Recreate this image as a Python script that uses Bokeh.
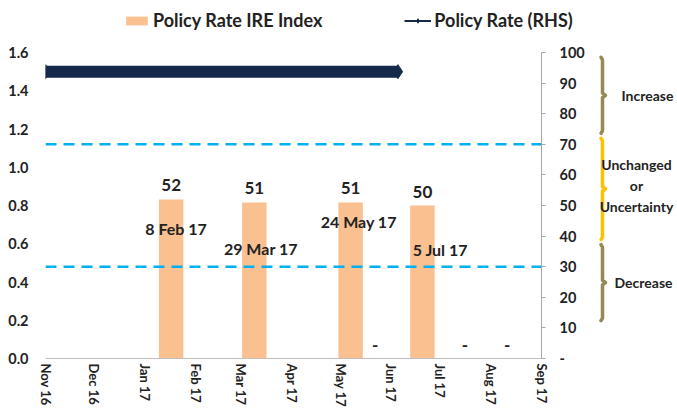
import pandas as pd
from bokeh.plotting import figure
from bokeh.models import (Range1d, LinearAxis, FixedTicker, DatetimeTickFormatter,
                          NumeralTickFormatter, Legend, LegendItem, ColumnDataSource)
from bokeh.layouts import row, column
from bokeh.embed import file_html
from bokeh.resources import INLINE
from bokeh.core.properties import value

# ---------------- data ----------------
month_ticks = ["2016-11-01", "2016-12-01", "2017-01-01", "2017-02-01", "2017-03-01", "2017-04-01",
               "2017-05-01", "2017-06-01", "2017-07-01", "2017-08-01", "2017-09-01"]
bar_dates = ["2017-01-17", "2017-03-09", "2017-05-07", "2017-05-22", "2017-06-20", "2017-07-16", "2017-08-11"]
bar_values = [52, 51, 51, 0, 50, 0, 0]
bar_labels = ["52", "51", "51", "-", "50", "-", "-"]
rate_dates = ["2016-11-01", "2017-06-05"]
rate_values = [1.5, 1.5]
meeting_labels = ["8 Feb 17", "29 Mar 17", "24 May 17", "5 Jul 17"]
meeting_dates = ["2017-01-20", "2017-03-13", "2017-05-12", "2017-07-01"]
meeting_levels = [42.5, 36.0, 44.8, 35.6]
band_levels = [70, 30]
left_ticks = [0.0, 0.2, 0.4, 0.6, 0.8, 1.0, 1.2, 1.4, 1.6]
right_ticks = [0, 10, 20, 30, 40, 50, 60, 70, 80, 90, 100]
zone_names = ["Increase", "Unchanged\nor\nUncertainty", "Decrease"]
zone_lo = [72, 30, -2]
zone_hi = [102, 70, 28]
zone_colors = ["#948A54", "#FFC000", "#948A54"]

FONT = "Lato"
TXT = "#222222"
GRAY = "#A6A6A6"
NAVY = "#152A4A"
ORANGE = "#FAC090"

x_start = pd.Timestamp(month_ticks[0])
x_end = pd.Timestamp(month_ticks[-1])
DAY_MS = 86400000

# ---------------- layout geometry ----------------
LEG_H = 40
B_LEFT, B_RIGHT, B_TOP, B_BOT = 45, 56, 12, 52
FRAME_W, FRAME_H = 496, 306
P_W = B_LEFT + FRAME_W + B_RIGHT
P_H = B_TOP + FRAME_H + B_BOT
Q_W = 80

# ---------------- legend strip ----------------
lf = figure(width=P_W + Q_W, height=LEG_H, x_range=Range1d(0, 1), y_range=Range1d(0, 1),
            output_backend="svg", toolbar_location=None,
            x_axis_location=None, y_axis_location=None,
            min_border_left=0, min_border_right=0, min_border_top=0, min_border_bottom=0)
lf.outline_line_color = None
lf.xgrid.visible = False
lf.ygrid.visible = False
# legend proxies: placed outside the strip's visible range, only their legend glyphs show
lg_bar = lf.vbar(x=[5], top=[6], bottom=[5], width=1, fill_color=ORANGE, line_color=None)
lg_line = lf.line(x=[5, 6], y=[5, 5], line_color=NAVY, line_width=2)
lg_mark = lf.scatter(x=[5], y=[5], marker="diamond", size=13, fill_color=NAVY, line_color=NAVY)
legend = Legend(items=[LegendItem(label="Policy Rate IRE Index", renderers=[lg_bar]),
                       LegendItem(label="Policy Rate (RHS)", renderers=[lg_line, lg_mark])],
                orientation="horizontal", location=(123, 9), spacing=82,
                glyph_width=27, glyph_height=11, label_standoff=3, padding=0, margin=0,
                border_line_color=None, background_fill_alpha=0,
                label_text_font=FONT, label_text_font_style="bold",
                label_text_font_size="18px", label_text_color=TXT)
lf.add_layout(legend)

# ---------------- main figure ----------------
p = figure(width=P_W, height=P_H, x_axis_type="datetime",
           x_range=Range1d(x_start, x_end), y_range=Range1d(0, 1.6),
           output_backend="svg", toolbar_location=None,
           min_border_left=B_LEFT, min_border_right=B_RIGHT,
           min_border_top=B_TOP, min_border_bottom=B_BOT)
p.extra_y_ranges = {"rhs": Range1d(0, 100)}
p.outline_line_color = None
p.xgrid.visible = False
p.ygrid.visible = False

# x axis
xa = p.xaxis[0]
xa.ticker = FixedTicker(ticks=[pd.Timestamp(d).value // 10**6 for d in month_ticks])
xa.formatter = DatetimeTickFormatter(days="%b %y", months="%b %y", years="%b %y")
xa.major_label_orientation = "vertical"
xa.major_tick_line_color = None
xa.major_tick_out = 0
xa.minor_tick_line_color = None
xa.axis_line_color = "#BFBFBF"
xa.major_label_standoff = 5
xa.major_label_text_font = FONT
xa.major_label_text_font_style = "bold"
xa.major_label_text_font_size = "13px"
xa.major_label_text_color = TXT

# left axis
ya = p.yaxis[0]
ya.ticker = FixedTicker(ticks=left_ticks)
ya.formatter = NumeralTickFormatter(format="0.0")
ya.axis_line_color = None
ya.major_tick_line_color = None
ya.major_tick_out = 0
ya.minor_tick_line_color = None
ya.major_label_standoff = 17
ya.major_label_text_font = FONT
ya.major_label_text_font_style = "bold"
ya.major_label_text_font_size = "14.5px"
ya.major_label_text_color = TXT

# right axis
ra = LinearAxis(y_range_name="rhs", ticker=FixedTicker(ticks=right_ticks),
                major_label_overrides={0: "-"})
ra.axis_line_color = GRAY
ra.major_tick_line_color = GRAY
ra.major_tick_out = 4
ra.major_tick_in = 0
ra.minor_tick_line_color = None
ra.major_label_standoff = 14
ra.major_label_text_font = FONT
ra.major_label_text_font_style = "bold"
ra.major_label_text_font_size = "14.5px"
ra.major_label_text_color = TXT
p.add_layout(ra, "right")

# bars
bsrc = ColumnDataSource(dict(x=pd.to_datetime(bar_dates), top=bar_values, label=bar_labels))
p.vbar(x="x", top="top", width=15 * DAY_MS, source=bsrc, y_range_name="rhs",
       fill_color=ORANGE, line_color=None)
p.text(x="x", y="top", text="label", source=bsrc, y_range_name="rhs",
       text_align="center", text_baseline="middle", y_offset=-14,
       text_font=value(FONT), text_font_style="bold", text_font_size="17px", text_color=TXT)

# threshold bands
for lvl in band_levels:
    p.line(x=[x_start, x_end], y=[lvl, lvl], y_range_name="rhs",
           line_color="#00B0F0", line_width=2.5, line_dash="11 7")

# policy rate
p.line(x=pd.to_datetime(rate_dates), y=rate_values, line_color=NAVY, line_width=12)
p.scatter(x=pd.to_datetime(rate_dates), y=rate_values, marker="diamond", size=14,
          fill_color=NAVY, line_color=NAVY)

# meeting labels
p.text(x=pd.to_datetime(meeting_dates), y=meeting_levels, text=meeting_labels, y_range_name="rhs",
       text_align="center", text_baseline="middle",
       text_font=value(FONT), text_font_style="bold", text_font_size="16px", text_color=TXT)

# ---------------- bracket figure ----------------
px_per_unit = FRAME_H / 100.0
q = figure(width=Q_W, height=P_H, x_range=Range1d(0, Q_W),
           y_range=Range1d(-B_BOT / px_per_unit, 100 + B_TOP / px_per_unit),
           output_backend="svg", toolbar_location=None,
           x_axis_location=None, y_axis_location=None,
           min_border_left=0, min_border_right=0, min_border_top=0, min_border_bottom=0)
q.outline_line_color = None
q.xgrid.visible = False
q.ygrid.visible = False

xs, ys, mids = [], [], []
for lo, hi in zip(zone_lo, zone_hi):
    mid = (lo + hi) / 2.0
    mids.append(mid)
    xs.append([3.5, 5, 5, 8, 5, 5, 3.5])
    ys.append([hi, hi - 1.0, mid + 0.9, mid, mid - 0.9, lo + 1.0, lo])
q.multi_line(xs=xs, ys=ys, line_color=zone_colors, line_width=3.5,
             line_join="round", line_cap="round")
q.text(x=[50, 39, 46], y=[mids[0], mids[1] + 1.3, mids[2]], text=zone_names,
       text_align="center", text_baseline="middle", text_line_height=1.25,
       text_font=value(FONT), text_font_style="bold", text_font_size="14px", text_color=TXT)

layout = column(lf, row(p, q, spacing=0), spacing=0)
open("out.html", "w").write(file_html(layout, INLINE))
